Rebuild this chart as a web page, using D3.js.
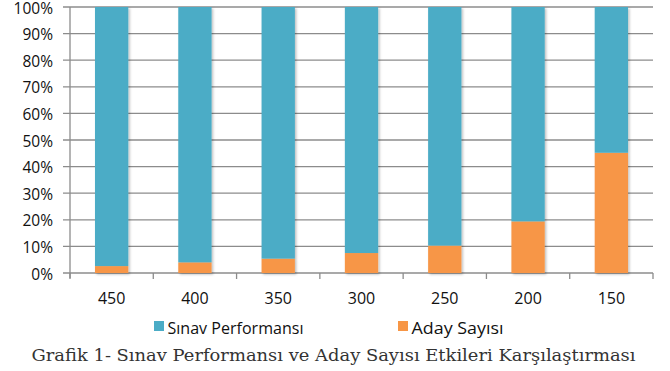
<!DOCTYPE html>
<html><head><meta charset="utf-8">
<script src="https://cdn.jsdelivr.net/npm/d3@7"></script>
<style>body{margin:0;background:#fff}svg{display:block}</style>
</head><body>
<svg id="c" width="670" height="371"></svg>
<script>
const categories = ["450","400","350","300","250","200","150"];
const adaySayisi = [2.6, 4.0, 5.4, 7.5, 10.3, 19.4, 45.2];
const sinavPerformansi = adaySayisi.map(v => 100 - v);
const yTicks = [0,10,20,30,40,50,60,70,80,90,100];
const seriesNames = ["Sınav Performansı","Aday Sayısı"];
const colors = ["#4bacc6","#f79646"];

const svg = d3.select("#c");
const pL = 70, pR = 653, pT = 7, pB = 273;
const x = d3.scaleBand().domain(categories).range([pL, pR]).paddingInner(0.6).paddingOuter(0.3);
const xb = d3.scaleBand().domain(categories).range([pL, pR]);
const y = d3.scaleLinear().domain([0,100]).range([pB, pT]);

const defs = svg.append("defs");
const f = defs.append("filter").attr("id","sh").attr("x","-20%").attr("y","-5%").attr("width","150%").attr("height","115%");
f.append("feDropShadow").attr("dx",1.5).attr("dy",1.5).attr("stdDeviation",1.2).attr("flood-color","#000").attr("flood-opacity",0.25);

// grid
svg.append("g").selectAll("line").data(yTicks).join("line")
  .attr("x1", pL-7).attr("x2", pR).attr("y1", d=>y(d)).attr("y2", d=>y(d))
  .attr("stroke","#8c8c8c").attr("stroke-width",1.3);
// y axis line
svg.append("line").attr("x1",pL).attr("x2",pL).attr("y1",pT).attr("y2",pB+5)
  .attr("stroke","#8c8c8c").attr("stroke-width",1.3);
// x ticks
const bounds = categories.map(c=>xb(c)).concat([pR]);
svg.append("g").selectAll("line").data(bounds).join("line")
  .attr("x1",d=>d).attr("x2",d=>d).attr("y1",pB).attr("y2",pB+6)
  .attr("stroke","#8c8c8c").attr("stroke-width",1.3);

// y labels
svg.append("g").selectAll("text").data(yTicks).join("text")
  .attr("x", 53).attr("y", d=>y(d)+6.5).attr("text-anchor","end")
  .attr("font-family","'Open Sans', sans-serif").attr("font-size",15.5).attr("fill","#111")
  .text(d=>d+"%");
// x labels
svg.append("g").selectAll("text").data(categories).join("text")
  .attr("x", d=>xb(d)+xb.bandwidth()/2).attr("y", 303.5).attr("text-anchor","middle")
  .attr("font-family","'Open Sans', sans-serif").attr("font-size",16).attr("fill","#111")
  .text(d=>d);

// bars
const stackData = categories.map((c,i)=>({cat:c, aday:adaySayisi[i], sinav:sinavPerformansi[i]}));
const stack = d3.stack().keys(["aday","sinav"])(stackData);
const g = svg.append("g").attr("filter","url(#sh)");
g.selectAll("g").data(stack).join("g").attr("fill",(d,i)=> i===0 ? colors[1] : colors[0])
  .selectAll("rect").data(d=>d).join("rect")
  .attr("x", d=>x(d.data.cat)).attr("width", x.bandwidth())
  .attr("y", d=>y(d[1])).attr("height", d=>y(d[0])-y(d[1]));

// legend
const leg = [{name:seriesNames[0], color:colors[0], x:154, w:136},{name:seriesNames[1], color:colors[1], x:398, w:92}];
const lg = svg.append("g").selectAll("g").data(leg).join("g");
lg.append("rect").attr("x",d=>d.x).attr("y",321).attr("width",10).attr("height",10).attr("fill",d=>d.color);
lg.append("text").attr("x",d=>d.x+13.5).attr("y",333.5).attr("font-family","'Open Sans', sans-serif")
  .attr("font-size",16.5).attr("fill","#111")
  .attr("textLength",d=>d.w).attr("lengthAdjust","spacingAndGlyphs").text(d=>d.name);

// caption
svg.append("text").attr("x",31.5).attr("y",360.5)
  .attr("font-family","'DejaVu Serif', serif").attr("font-size",17.5).attr("fill","#333")
  .attr("textLength",604).attr("lengthAdjust","spacingAndGlyphs")
  .text("Grafik 1- Sınav Performansı ve Aday Sayısı Etkileri Karşılaştırması");
</script>
</body></html>
